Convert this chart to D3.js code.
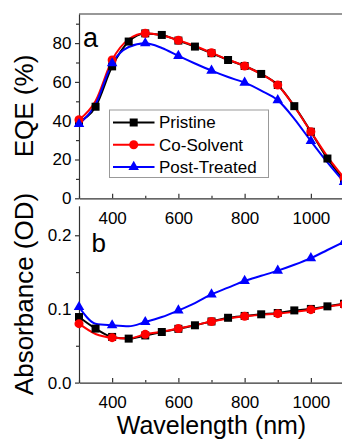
<!DOCTYPE html>
<html>
<head>
<meta charset="utf-8">
<script src="https://cdn.jsdelivr.net/npm/d3@7"></script>
<style>
  body { margin: 0; background: #fff; }
  svg { display: block; font-family: Arial, "Liberation Sans", sans-serif; }
</style>
</head>
<body>
<script>
// wavelengths (nm), 50 nm steps
const wavelengths = [300, 350, 400, 450, 500, 550, 600, 650, 700, 750, 800, 850, 900, 950, 1000, 1050, 1100]

// EQE (%)
const eqePristine    = [39.5, 47.2, 68, 80.8, 85, 84.2, 81.3, 78.2, 74.8, 71.3, 68.2, 64.1, 58.4, 47.5, 34.3, 20.5, 9.3]
const eqeCoSolvent   = [40.5, 50.2, 71.3, 82, 85.1, 84, 81.5, 78.5, 75, 71.5, 68.2, 64, 58.4, 47.3, 34.3, 21.5, 10.5]
const eqePostTreated = [38.3, 48.5, 69.6, 78, 79.9, 77.5, 73.4, 69.5, 65.8, 62.5, 59.6, 55.5, 50.6, 41, 29.5, 18.5, 8.4]

// Absorbance (OD)
const absPristine    = [0.089, 0.0733, 0.062, 0.0597, 0.064, 0.0687, 0.073, 0.0778, 0.083, 0.088, 0.0905, 0.0927, 0.0945, 0.098, 0.1, 0.1035, 0.107]
const absCoSolvent   = [0.080, 0.066, 0.061, 0.060, 0.0655, 0.069, 0.0733, 0.078, 0.083, 0.087, 0.090, 0.092, 0.0936, 0.096, 0.099, 0.103, 0.106]
const absPostTreated = [0.1026, 0.080, 0.0778, 0.0765, 0.0822, 0.089, 0.098, 0.108, 0.1198, 0.129, 0.138, 0.145, 0.152, 0.160, 0.169, 0.180, 0.191]

const seriesNames = ['Pristine', 'Co-Solvent', 'Post-Treated']
const colors = ['#000000', '#ff0000', '#0000ff']
const symbols = [d3.symbolSquare, d3.symbolCircle, d3.symbolTriangle]
const symbolSizes = [64, 64, 48]
const markerStep = [50, 100, 100]

const xTicks = [400, 600, 800, 1000]
const xMinor = [300, 500, 700, 900, 1100]
const eqeTicks = [0, 20, 40, 60, 80]
const eqeMinor = [10, 30, 50, 70, 90]
const absTicks = [0, 0.1, 0.2]
const absMinor = [0.05, 0.15]

const W = 342, H = 440
const svg = d3.select('body').append('svg').attr('width', W).attr('height', H)

const x = d3.scaleLinear().domain([300, 1100]).range([79, 344])
const yTop = d3.scaleLinear().domain([0, 95]).range([198.3, 14])
const yBot = d3.scaleLinear().domain([0, 0.24]).range([382.6, 205.8])

const axisColor = '#333'

function drawPanel(y, yt, ym, fmt, data) {
    const y0 = y.range()[0]

    // x axis, ticks pointing in
    svg.append('g').attr('transform', `translate(0,${y0})`)
        .call(d3.axisBottom(x).tickValues(xTicks).tickSizeInner(-4.5).tickSizeOuter(0).tickPadding(13.5).tickFormat(d3.format('d')))
    svg.append('g').attr('transform', `translate(0,${y0})`)
        .call(d3.axisBottom(x).tickValues(xMinor).tickSizeInner(-2.5).tickSizeOuter(0).tickFormat(''))
        .select('.domain').remove()

    // y axis, ticks pointing out
    svg.append('g').attr('transform', `translate(${x.range()[0]},0)`)
        .call(d3.axisLeft(y).tickValues(yt).tickSizeInner(4).tickSizeOuter(0).tickPadding(3.5).tickFormat(fmt))
    svg.append('g').attr('transform', `translate(${x.range()[0]},0)`)
        .call(d3.axisLeft(y).tickValues(ym).tickSizeInner(3).tickSizeOuter(0).tickFormat(''))
        .select('.domain').remove()

    svg.selectAll('.tick text').attr('font-size', 17).attr('fill', '#000').attr('font-family', null)
    svg.selectAll('.domain, .tick line').attr('stroke', axisColor).attr('stroke-width', 1.2)

    const line = d3.line()
        .x((d, i) => x(wavelengths[i]))
        .y(d => y(d))
        .curve(d3.curveMonotoneX)

    data.forEach((vals, k) => {
        svg.append('path')
            .attr('d', line(vals))
            .attr('fill', 'none')
            .attr('stroke', colors[k])
            .attr('stroke-width', 2)
    })
    data.forEach((vals, k) => {
        const pts = vals.map((v, i) => [wavelengths[i], v]).filter(p => (p[0] - 300) % markerStep[k] === 0)
        svg.append('g').selectAll('path').data(pts).join('path')
            .attr('transform', p => `translate(${x(p[0])},${y(p[1])})`)
            .attr('d', d3.symbol(symbols[k], symbolSizes[k]))
            .attr('fill', colors[k])
    })
}

drawPanel(yTop, eqeTicks, eqeMinor, d3.format('d'), [eqePristine, eqeCoSolvent, eqePostTreated])
drawPanel(yBot, absTicks, absMinor, d3.format('.1f'), [absPristine, absCoSolvent, absPostTreated])

// top frame line of panel a
svg.append('line')
    .attr('x1', 79).attr('x2', 344).attr('y1', 14).attr('y2', 14)
    .attr('stroke', axisColor).attr('stroke-width', 1.2)

// panel letters
svg.append('text').attr('x', 83).attr('y', 46.5).attr('font-size', 27).text('a')
svg.append('text').attr('x', 91.5).attr('y', 251.5).attr('font-size', 26).text('b')

// axis titles
svg.append('text')
    .attr('transform', 'translate(33,106) rotate(-90)')
    .attr('text-anchor', 'middle').attr('font-size', 26).text('EQE (%)')
svg.append('text')
    .attr('transform', 'translate(33,294) rotate(-90)')
    .attr('text-anchor', 'middle').attr('font-size', 26).text('Absorbance (OD)')
svg.append('text')
    .attr('x', 211.5).attr('y', 434.3)
    .attr('text-anchor', 'middle').attr('font-size', 25).text('Wavelength (nm)')

// legend
const lg = svg.append('g')
lg.append('rect')
    .attr('x', 109.5).attr('y', 110).attr('width', 159).attr('height', 67.5)
    .attr('fill', '#fff').attr('stroke', '#999').attr('stroke-width', 1)
seriesNames.forEach((name, k) => {
    const cy = 122.5 + k * 22.2
    lg.append('line')
        .attr('x1', 113).attr('x2', 154.5).attr('y1', cy).attr('y2', cy)
        .attr('stroke', colors[k]).attr('stroke-width', 2)
    lg.append('path')
        .attr('transform', `translate(133.7,${cy})`)
        .attr('d', d3.symbol(symbols[k], symbolSizes[k]))
        .attr('fill', colors[k])
    lg.append('text')
        .attr('x', 159).attr('y', cy).attr('dy', '0.35em')
        .attr('font-size', 17).text(name)
})
</script>
</body>
</html>
